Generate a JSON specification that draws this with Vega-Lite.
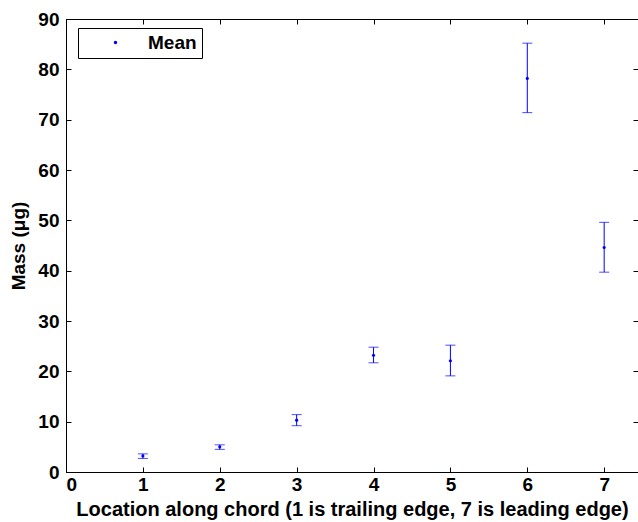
{
  "$schema": "https://vega.github.io/schema/vega-lite/v6.json",
  "width": 572,
  "height": 453,
  "autosize": {"type": "none"},
  "padding": {"left": 66, "top": 19, "right": 0, "bottom": 50},
  "background": "white",
  "config": {
    "view": {"stroke": "black", "strokeWidth": 1},
    "font": "Liberation Sans",
    "axis": {
      "labelFont": "Liberation Sans",
      "labelFontWeight": "bold",
      "labelFontSize": 19,
      "labelColor": "black",
      "titleFont": "Liberation Sans",
      "titleFontWeight": "bold",
      "titleFontSize": 19,
      "titleColor": "black",
      "domainColor": "black",
      "tickColor": "black",
      "grid": false
    }
  },
  "data": {
    "values": [
      {"loc": 1, "mean": 3.2, "lo": 2.7, "hi": 3.6, "series": "Mean"},
      {"loc": 2, "mean": 5.0, "lo": 4.5, "hi": 5.4, "series": "Mean"},
      {"loc": 3, "mean": 10.3, "lo": 9.2, "hi": 11.4, "series": "Mean"},
      {"loc": 4, "mean": 23.2, "lo": 21.7, "hi": 24.8, "series": "Mean"},
      {"loc": 5, "mean": 22.1, "lo": 19.1, "hi": 25.2, "series": "Mean"},
      {"loc": 6, "mean": 78.2, "lo": 71.4, "hi": 85.2, "series": "Mean"},
      {"loc": 7, "mean": 44.6, "lo": 39.7, "hi": 49.6, "series": "Mean"}
    ]
  },
  "layer": [
    {
      "layer": [
        {
          "mark": {"type": "rule", "color": "#0000ff", "strokeWidth": 1},
          "encoding": {
            "x": {"field": "loc", "type": "quantitative"},
            "y": {"field": "lo", "type": "quantitative"},
            "y2": {"field": "hi"}
          }
        },
        {
          "mark": {"type": "tick", "orient": "horizontal", "color": "#0000ff", "size": 10, "thickness": 1},
          "encoding": {
            "x": {"field": "loc", "type": "quantitative"},
            "y": {"field": "lo", "type": "quantitative"}
          }
        },
        {
          "mark": {"type": "tick", "orient": "horizontal", "color": "#0000ff", "size": 10, "thickness": 1},
          "encoding": {
            "x": {"field": "loc", "type": "quantitative"},
            "y": {"field": "hi", "type": "quantitative"}
          }
        },
        {
          "mark": {"type": "point", "filled": true, "size": 10, "opacity": 1, "shape": "circle"},
          "encoding": {
            "x": {
              "field": "loc", "type": "quantitative",
              "scale": {"domain": [0, 7.44], "nice": false, "zero": false},
              "axis": {
                "values": [0, 1, 2, 3, 4, 5, 6, 7],
                "format": "d",
                "title": "Location along chord (1 is trailing edge, 7 is leading edge)",
                "titleFontSize": 20,
                "tickSize": -5,
                "labelPadding": 8,
                "titlePadding": 5
              }
            },
            "y": {
              "field": "mean", "type": "quantitative",
              "scale": {"domain": [0, 90], "nice": false},
              "axis": {
                "values": [0, 10, 20, 30, 40, 50, 60, 70, 80, 90],
                "format": "d",
                "title": "Mass (μg)",
                "tickSize": -5,
                "labelPadding": 12,
                "titlePadding": 9
              }
            },
            "color": {
              "field": "series", "type": "nominal",
              "scale": {"range": ["#0000ff"]},
              "legend": {
                "title": null,
                "orient": "none",
                "legendX": 12,
                "legendY": 9,
                "fillColor": "white",
                "strokeColor": "black",
                "padding": 5,
                "symbolOffset": 23,
                "labelOffset": 23,
                "symbolSize": 12,
                "symbolType": "circle",
                "labelFont": "Liberation Sans",
                "labelFontWeight": "bold",
                "labelFontSize": 19,
                "labelColor": "black"
              }
            }
          }
        }
      ]
    },
    {
      "mark": {"type": "point", "opacity": 0},
      "encoding": {
        "x": {
          "field": "loc", "type": "quantitative",
          "scale": {"domain": [0, 7.44], "nice": false, "zero": false},
          "axis": {"orient": "top", "values": [0, 1, 2, 3, 4, 5, 6, 7], "labels": false, "title": null, "tickSize": -5, "domain": true}
        },
        "y": {
          "field": "mean", "type": "quantitative",
          "scale": {"domain": [0, 90], "nice": false},
          "axis": {"orient": "right", "values": [0, 10, 20, 30, 40, 50, 60, 70, 80, 90], "labels": false, "title": null, "tickSize": -5, "domain": false}
        }
      }
    }
  ],
  "resolve": {"scale": {"x": "independent", "y": "independent"}}
}
